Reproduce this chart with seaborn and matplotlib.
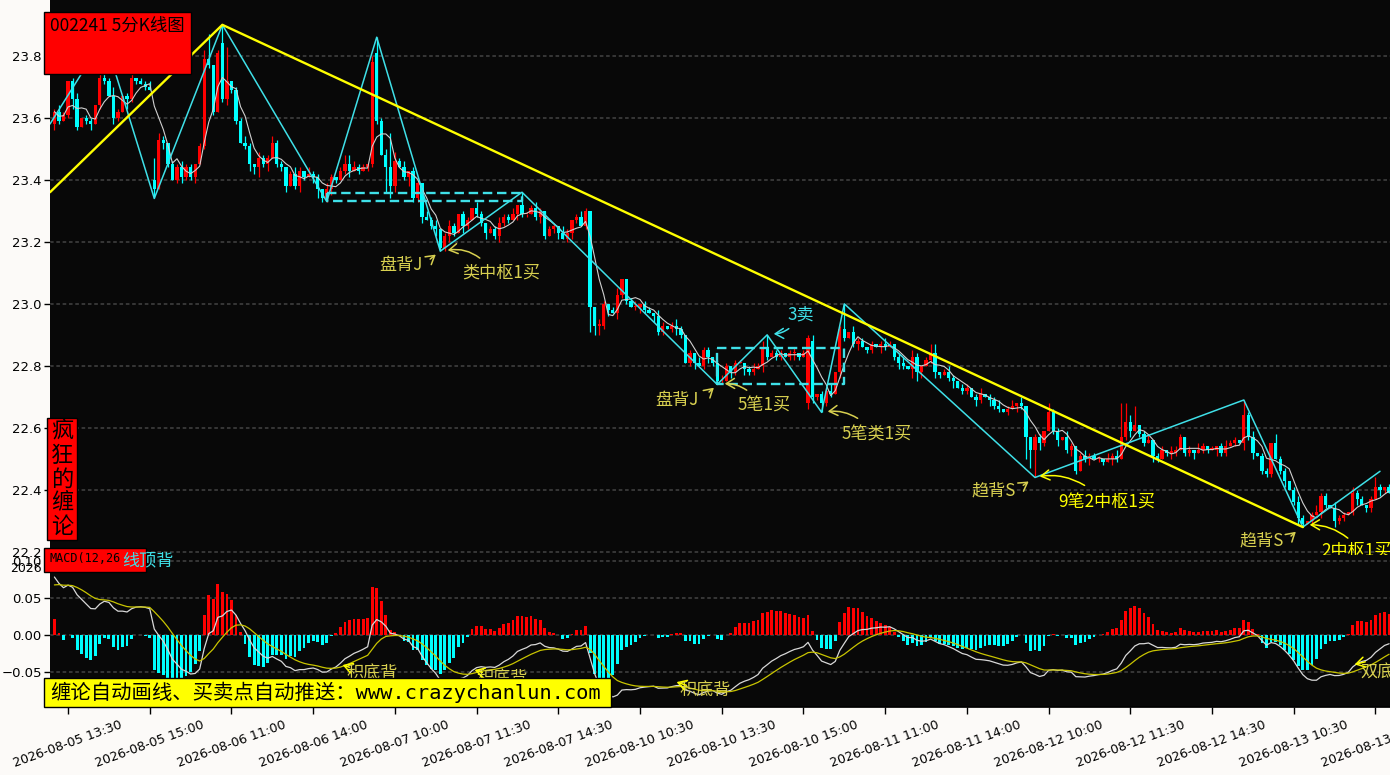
import numpy as np
import pandas as pd
import matplotlib
matplotlib.use("Agg")
import matplotlib.pyplot as plt
import seaborn as sns
from matplotlib.patches import Rectangle

# ---------------- data (prices as cents above 22.00) ----------------
close_cents = [
    162, 159, 161, 172, 166, 157, 160, 159, 158, 164,
    173, 172, 167, 160, 162, 167, 166, 173, 172, 171,
    170, 169, 137, 153, 152, 145, 140, 144, 141, 144,
    141, 145, 151, 179, 177, 162, 181, 166, 172, 169,
    159, 152, 151, 145, 144, 147, 145, 147, 152, 145,
    144, 138, 142, 138, 143, 141, 142, 141, 137, 134,
    137, 141, 140, 143, 145, 143, 144, 143, 144, 145,
    178, 159, 148, 144, 138, 146, 144, 141, 143, 134,
    139, 128, 127, 125, 124, 118, 122, 125, 123, 129,
    125, 127, 131, 129, 126, 123, 124, 122, 126, 128,
    127, 129, 132, 129, 129, 131, 128, 130, 122, 124,
    125, 123, 121, 123, 127, 128, 125, 130, 99, 93,
    93, 100, 98, 97, 103, 108, 101, 99, 99, 100,
    98, 97, 96, 91, 93, 92, 93, 92, 90, 81,
    84, 81, 80, 85, 83, 81, 75, 75, 80, 78,
    81, 81, 79, 78, 79, 80, 86, 83, 84, 83,
    84, 83, 84, 84, 83, 84, 89, 70, 71, 68,
    72, 71, 78, 92, 89, 91, 87, 88, 86, 85,
    87, 86, 87, 86, 87, 83, 81, 80, 79, 83,
    78, 80, 82, 84, 78, 77, 78, 76, 75, 73,
    72, 73, 70, 69, 71, 70, 69, 67, 66, 65,
    66, 67, 68, 67, 57, 53, 57, 55, 59, 65,
    59, 56, 57, 53, 54, 46, 51, 50, 51, 50,
    50, 49, 50, 51, 50, 57, 62, 59, 61, 58,
    55, 56, 51, 50, 53, 52, 52, 53, 57, 52,
    53, 52, 53, 54, 53, 53, 54, 52, 54, 55,
    56, 55, 64, 57, 52, 51, 46, 45, 55, 50,
    46, 43, 40, 36, 31, 29, 30, 32, 33, 38,
    35, 34, 30, 31, 32, 33, 39, 37, 35, 34,
    37, 41, 40, 41, 39,
]
first_open = 158
open_gaps = {22: 140, 37: 184, 71: 181, 166: 68, 167: 88}

up_wick = ("1210120110 1013101201 1202101121 1013201310 1121021121 "
           "1012102110 2101312110 2010531201 1021201210 1102101121 "
           "1201012101 1021012120 2101210120 1102101210 1021101210 "
           "1101212011 1012011201 1201202110 1012101202 1011301210 "
           "1101201120 1202001102 1102101211 1021250210 1201102110 "
           "1021010121 1021201103 1101210121 1021102110 12101")
dn_wick = ("2101310120 1102103110 1030210121 1201110121 1012241201 "
           "1201210231 1210120101 1102220131 1201201210 2101120121 "
           "1021101210 1201210121 0120211012 1021101210 1201210102 "
           "1021102101 1012101210 1102101201 1021012103 1201210120 "
           "1102102110 1021201210 1201210120 1102101201 1021012101 "
           "1201102110 1021201210 1201210102 1021101201 10210")
high_fix = {11: 186, 22: 147, 34: 187, 37: 190, 38: 183, 65: 148, 71: 186,
            73: 150, 74: 155, 103: 136, 118: 130, 125: 108, 157: 90, 166: 90,
            174: 100, 193: 87, 219: 68, 235: 68, 236: 68, 238: 67, 262: 69,
            291: 44}
low_fix = {22: 134, 45: 141, 59: 133, 60: 133, 73: 136, 74: 134, 85: 117,
           118: 91, 119: 90, 120: 90, 146: 74, 166: 66, 169: 65, 190: 75,
           214: 50, 215: 47, 216: 44, 225: 45, 267: 44, 275: 28}

tick_bars = [3 + 18 * k for k in range(17)]
tick_labels = [
    "2026-08-05 13:30", "2026-08-05 15:00", "2026-08-06 11:00",
    "2026-08-06 14:00", "2026-08-07 10:00", "2026-08-07 11:30",
    "2026-08-07 14:30", "2026-08-10 10:30", "2026-08-10 13:30",
    "2026-08-10 15:00", "2026-08-11 11:00", "2026-08-11 14:00",
    "2026-08-12 10:00", "2026-08-12 11:30", "2026-08-12 14:30",
    "2026-08-13 10:30", "2026-08-13 13:30",
]

# strokes (bi), trend lines and pivot boxes
zig_bars = [-0.97, 11, 22, 37, 60, 71, 85, 103, 146, 157, 169, 174, 216, 262, 275, 292]
zig_prices = [23.58, 23.86, 23.34, 23.90, 23.33, 23.86, 23.17, 23.36,
              22.74, 22.90, 22.65, 23.00, 22.44, 22.69, 22.28, 22.46]
trend_bars = [-0.97, 37, 275]
trend_prices = [23.36, 23.90, 22.28]
box_bars = [(60, 103), (146, 174)]
box_prices = [(23.332, 23.358), (22.742, 22.858)]

macd_start = (23.625, 23.54, 0.065)   # ema12, ema26, dea before first bar

# ---------------- build the frame ----------------
c_ct = np.array(close_cents, dtype=float)
o_ct = np.r_[first_open, c_ct[:-1]]
for k, v in open_gaps.items():
    o_ct[k] = v
uw = np.array([int(ch) for ch in up_wick.replace(" ", "")], dtype=float)
dw = np.array([int(ch) for ch in dn_wick.replace(" ", "")], dtype=float)
h_ct = np.maximum(o_ct, c_ct) + uw
l_ct = np.minimum(o_ct, c_ct) - dw
for k, v in high_fix.items():
    h_ct[k] = v
for k, v in low_fix.items():
    l_ct[k] = v

df = pd.DataFrame({"bar": np.arange(len(c_ct)),
                   "open": 22 + o_ct / 100, "close": 22 + c_ct / 100,
                   "high": 22 + h_ct / 100, "low": 22 + l_ct / 100})
df["ma5"] = df["close"].rolling(5, min_periods=1).mean()

e12, e26, dea = macd_start
difs, deas = [], []
for c in df["close"]:
    e12 += 2 / 13 * (c - e12)
    e26 += 2 / 27 * (c - e26)
    d = e12 - e26
    dea += 2 / 10 * (d - dea)
    difs.append(d)
    deas.append(dea)
df["dif"] = difs
df["dea"] = deas
df["hist"] = 2 * (df["dif"] - df["dea"])

# ---------------- style ----------------
sns.set_theme(style="ticks")
plt.rcParams["font.family"] = ["DejaVu Sans", "Noto Sans CJK SC"]
CJK = ["Noto Sans CJK SC", "DejaVu Sans"]
RED, CYAN = "#ff0000", "#00ffff"
LINE_CYAN, YEL, KHAKI = "#3fe0e8", "#ffff00", "#d8d050"
AX_BG, FIG_BG, GRID = "#080808", "#fcfaf8", "#3a3a3a"

W, H = 1390, 775
fig = plt.figure(figsize=(W / 100, H / 100), dpi=100, facecolor=FIG_BG)


def fx(x):
    return x / W


def fy(y):
    return 1 - y / H


def bx(x):          # pixel -> bar index
    return (x - 54.4) / 4.54


def py(y):          # pixel -> price
    return 23.8 - (y - 56) / 310


def my(y):          # pixel -> macd value
    return (635 - y) / 740


ax = fig.add_axes([fx(50), fy(555), 1340 / W, 555 / H])
axm = fig.add_axes([fx(50), fy(707), 1340 / W, 152 / H])
for a in (ax, axm):
    a.set_facecolor(AX_BG)
    a.set_xlim(-0.97, 294.2)
    for s in a.spines.values():
        s.set_visible(False)
    a.tick_params(axis="y", length=4, width=1, color="black", labelsize=9.5,
                  labelcolor="black", pad=2)
ax.set_ylim(22.19, 23.98)
axm.set_ylim(-0.097, 0.108)
axm.spines["bottom"].set_visible(True)
axm.spines["bottom"].set_color("black")

# grid
price_ticks = [22.2, 22.4, 22.6, 22.8, 23.0, 23.2, 23.4, 23.6, 23.8]
ax.set_yticks(price_ticks)
ax.set_yticklabels([f"{v:.1f}" for v in price_ticks])
ax.set_xticks([])
for v in price_ticks:
    ax.axhline(v, color=GRID, lw=1.3, ls=(0, (2, 1.5)), zorder=0)
macd_ticks = [-0.05, 0.0, 0.05, 0.10]
axm.set_yticks(macd_ticks)
axm.set_yticklabels(["\u22120.05", "0.00", "0.05", "0.10"])
for v in macd_ticks:
    axm.axhline(v, color=GRID, lw=1.3, ls=(0, (2, 1.5)), zorder=0)

# candles
up = df["close"] >= df["open"]
colors = np.where(up, RED, CYAN)
ax.vlines(df["bar"], df["low"], df["high"], colors=colors, lw=0.9, zorder=2)
body_lo = np.minimum(df["open"], df["close"])
body_h = np.maximum((df["close"] - df["open"]).abs(), 0.004)
ax.bar(df["bar"], body_h, bottom=body_lo, width=0.72, color=colors,
       linewidth=0, zorder=3)
sns.lineplot(x=df["bar"], y=df["ma5"], ax=ax, color="#d0d0d0", linewidth=0.8,
             zorder=4, sort=False)

# strokes and trend lines
ax.plot(zig_bars, zig_prices, color=LINE_CYAN, lw=1.1, zorder=5)
ax.plot(trend_bars, trend_prices, color=YEL, lw=1.7, zorder=6)
for (b0, b1), (p0, p1) in zip(box_bars, box_prices):
    ax.plot([b0, b1, b1, b0, b0], [p1, p1, p0, p0, p1], color=LINE_CYAN,
            lw=1.7, ls=(0, (4, 2)), zorder=5)

# labels on the price panel
main_texts = [
    ("盘背J", 401, 265, KHAKI), ("类中枢1买", 501, 273, KHAKI),
    ("3卖", 801, 315, LINE_CYAN), ("盘背J", 677, 400, KHAKI),
    ("5笔1买", 764, 406, KHAKI), ("5笔类1买", 877, 435, KHAKI),
    ("趋背S", 994, 491, KHAKI), ("9笔2中枢1买", 1107, 503, YEL),
    ("趋背S", 1262, 541, KHAKI), ("2中枢1买", 1357, 551, YEL),
]
for t, x, y, col in main_texts:
    ax.text(bx(x), py(y), t, color=col, fontsize=12.3, family=CJK,
            ha="center", va="center", clip_on=True, zorder=8)
main_arrows = [
    (428, 261, 438, 253, KHAKI, 0), (482, 260, 445, 251, KHAKI, 0.25),
    (791, 327, 771, 334, LINE_CYAN, -0.2), (707, 394, 716, 386, KHAKI, 0),
    (749, 392, 722, 384, KHAKI, 0.2), (860, 420, 825, 412, KHAKI, 0.2),
    (1021, 487, 1031, 480, KHAKI, 0), (1087, 487, 1037, 477, YEL, 0.2),
    (1289, 538, 1298, 530, KHAKI, 0), (1350, 540, 1307, 525, YEL, 0.2),
]
for x0, y0, x1, y1, col, rad in main_arrows:
    ax.annotate("", xy=(bx(x1), py(y1)), xytext=(bx(x0), py(y0)),
                arrowprops=dict(arrowstyle="->,head_length=0.5,head_width=0.3",
                                color=col, lw=1.1,
                                connectionstyle=f"arc3,rad={rad}"),
                zorder=8, annotation_clip=False)

# MACD panel
hcol = np.where(df["hist"] >= 0, RED, CYAN)
axm.bar(df["bar"], df["hist"], width=0.62, color=hcol, linewidth=0, zorder=2)
sns.lineplot(x=df["bar"], y=df["dif"], ax=axm, color="#d8d8d8", linewidth=0.9,
             zorder=4, sort=False)
sns.lineplot(x=df["bar"], y=df["dea"], ax=axm, color="#c8c400", linewidth=0.9,
             zorder=4, sort=False)
axm.set_xlabel("")
axm.set_ylabel("")
ax.set_xlabel("")
ax.set_ylabel("")
axm.set_xticks(tick_bars)
axm.set_xticklabels(tick_labels, rotation=20, ha="center", fontsize=9.2)
axm.tick_params(axis="x", length=5, width=1, color="black", pad=3,
                labelcolor="black")

macd_texts = [
    ("积底背", 372, 674, KHAKI, "center"), ("积底背", 502, 679, KHAKI, "center"),
    ("积底背", 705, 691, KHAKI, "center"), ("双底背", 1360, 672, KHAKI, "left"),
]
for t, x, y, col, ha in macd_texts:
    axm.text(bx(x), my(y), t, color=col, fontsize=12.3, family=CJK, ha=ha,
             va="center", clip_on=(ha == "left"), zorder=8)
macd_arrows = [
    (119, 561, 113, 573), (352, 668, 340, 664), (485, 673, 472, 669),
    (689, 686, 674, 681), (1368, 661, 1352, 665),
]
for x0, y0, x1, y1 in macd_arrows:
    axm.annotate("", xy=(bx(x1), my(y1)), xytext=(bx(x0), my(y0)),
                 arrowprops=dict(arrowstyle="->,head_length=0.5,head_width=0.3",
                                 color=YEL, lw=1.1),
                 zorder=8, annotation_clip=False)

# boxes drawn on the figure
def box(x0, y0, x1, y1, face):
    fig.add_artist(Rectangle((fx(x0), fy(y1)), (x1 - x0) / W, (y1 - y0) / H,
                             transform=fig.transFigure, facecolor=face,
                             edgecolor="black", lw=1.0, zorder=10))


box(44, 12, 191, 74, RED)
fig.text(fx(50), fy(26), "002241 5分K线图", fontsize=12.5, family=CJK,
         color="black", ha="left", va="center", zorder=11)
box(47, 418, 77, 540, RED)
fig.text(fx(62), fy(479), "\n".join("疯狂的缠论"), fontsize=16, family=CJK,
         color="black", ha="center", va="center", linespacing=1.05, zorder=11)
box(44, 548, 146, 572, RED)
fig.text(fx(49), fy(558), "MACD(12,26", fontsize=8.5, family="DejaVu Sans Mono",
         color="black", ha="left", va="center", zorder=11)
fig.text(fx(122), fy(560), "线顶背", fontsize=12.3, family=CJK, color=LINE_CYAN,
         ha="left", va="center", zorder=12)
box(44, 678, 611, 707, YEL)
fig.text(fx(50), fy(692), "缠论自动画线、买卖点自动推送：www.crazychanlun.com",
         fontsize=14.7, family=["DejaVu Sans Mono", "Noto Sans CJK SC"],
         color="black", ha="left", va="center", zorder=11)
fig.text(fx(10), fy(569), "2026", fontsize=9, color="black", ha="left",
         va="center")

fig.savefig("out.png", dpi=100, facecolor=FIG_BG)
